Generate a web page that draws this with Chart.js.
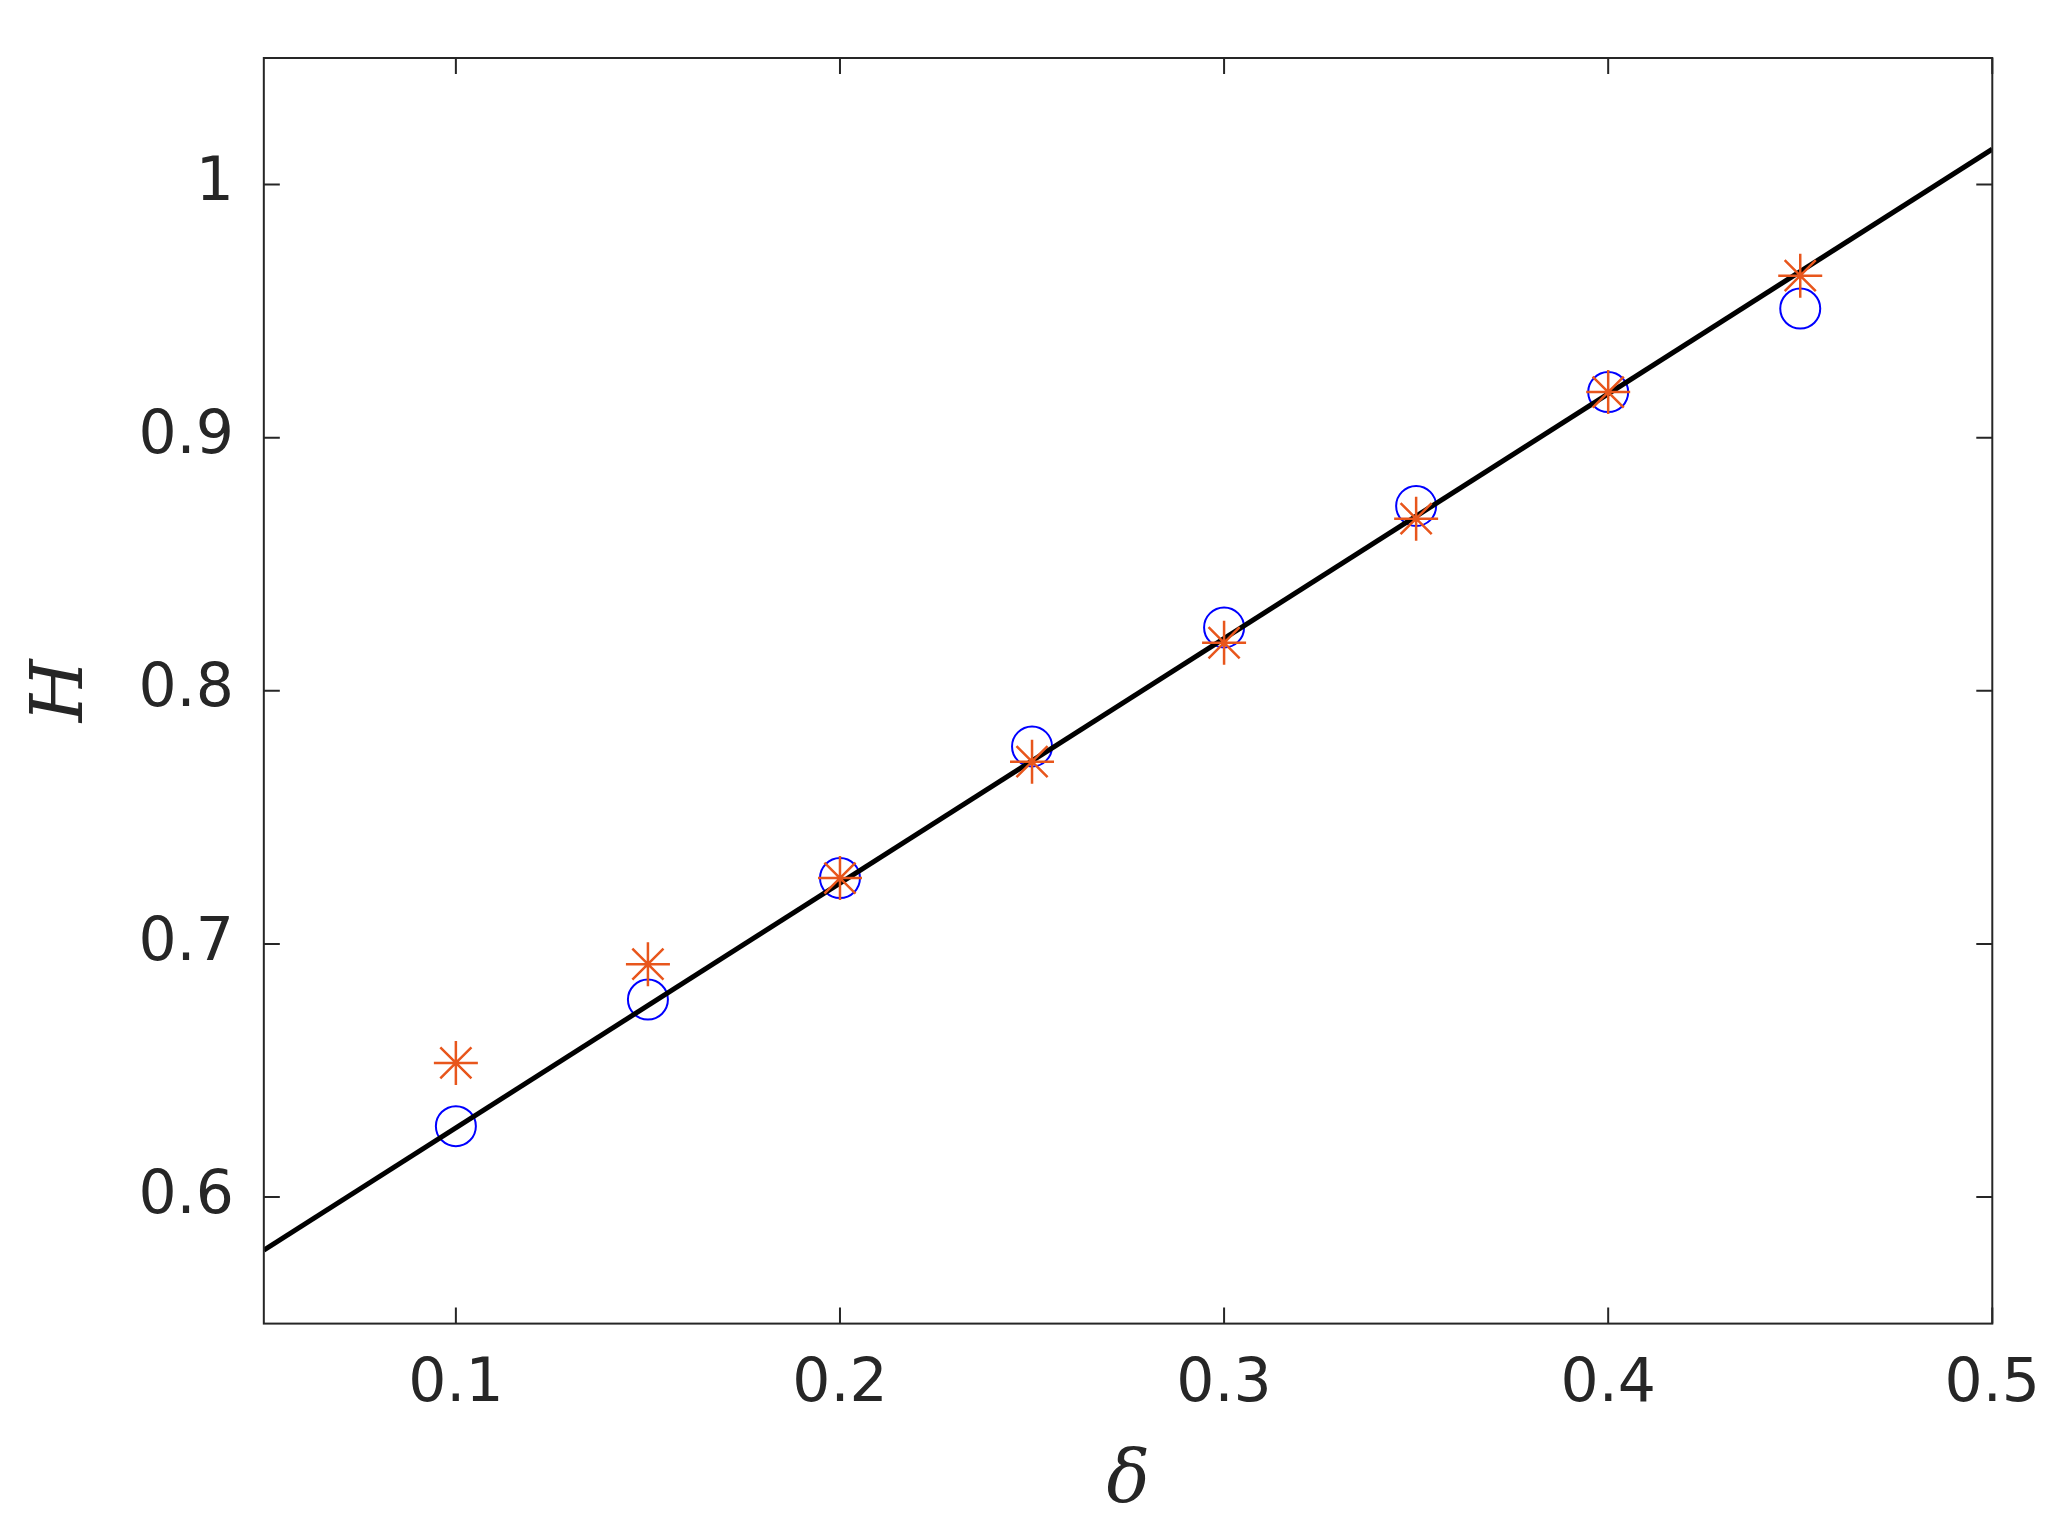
<!DOCTYPE html>
<html>
<head>
<meta charset="utf-8">
<script src="https://cdn.jsdelivr.net/npm/chart.js@4"></script>
<style>
  html, body { margin: 0; padding: 0; background: #fff; }
  #wrap { width: 2058px; height: 1536px; }
</style>
</head>
<body>
<div id="wrap"><canvas id="c"></canvas></div>
<script>
const deltas = [0.1, 0.15, 0.2, 0.25, 0.3, 0.35, 0.4, 0.45];
const circleH = [0.628, 0.678, 0.726, 0.778, 0.825, 0.873, 0.918, 0.951];
const starH = [0.653, 0.692, 0.726, 0.772, 0.819, 0.868, 0.918, 0.964];
const fitX = [0.05, 0.5];
const fitH = [0.579, 1.014];
const xTicks = [0.1, 0.2, 0.3, 0.4, 0.5];
const yTicks = [0.6, 0.7, 0.8, 0.9, 1];

// inward ticks on all four sides plus the box
const boxTicks = {
    id: 'boxTicks',
    afterDraw(chart) {
        const { ctx, chartArea: a, scales: { x, y } } = chart;
        const len = 16;
        ctx.save();
        ctx.strokeStyle = '#262626';
        ctx.lineWidth = 2;
        ctx.strokeRect(a.left, a.top, a.right - a.left, a.bottom - a.top);
        ctx.beginPath();
        xTicks.forEach(v => {
            const px = x.getPixelForValue(v);
            ctx.moveTo(px, a.bottom); ctx.lineTo(px, a.bottom - len);
            ctx.moveTo(px, a.top); ctx.lineTo(px, a.top + len);
        });
        yTicks.forEach(v => {
            const py = y.getPixelForValue(v);
            ctx.moveTo(a.left, py); ctx.lineTo(a.left + len, py);
            ctx.moveTo(a.right, py); ctx.lineTo(a.right - len, py);
        });
        ctx.stroke();
        ctx.restore();
    }
};

new Chart(document.getElementById('c'), {
    type: 'scatter',
    data: {
        datasets: [
            {
                type: 'line',
                data: fitX.map((v, i) => ({ x: v, y: fitH[i] })),
                borderColor: '#000',
                borderWidth: 5,
                pointRadius: 0,
                order: 1
            },
            {
                data: deltas.map((v, i) => ({ x: v, y: circleH[i] })),
                pointStyle: 'circle',
                pointRadius: 20,
                borderColor: '#0000ff',
                borderWidth: 2,
                backgroundColor: 'rgba(0,0,0,0)',
                order: 2
            },
            {
                data: deltas.map((v, i) => ({ x: v, y: starH[i] })),
                pointStyle: 'star',
                pointRadius: 22,
                borderColor: '#e8561c',
                borderWidth: 2.5,
                backgroundColor: 'rgba(0,0,0,0)',
                order: 0
            }
        ]
    },
    options: {
        responsive: true,
        maintainAspectRatio: false,
        animation: false,
        layout: { padding: { top: 24, right: 62, left: 10, bottom: 10 } },
        plugins: { legend: { display: false }, tooltip: { enabled: false } },
        scales: {
            x: {
                type: 'linear', min: 0.05, max: 0.5,
                afterBuildTicks: s => { s.ticks = xTicks.map(v => ({ value: v })); },
                grid: { display: false },
                border: { display: false },
                ticks: { color: '#262626', font: { family: 'DejaVu Sans', size: 60 }, padding: 18, maxRotation: 0,
                         callback: v => String(v) },
                title: { display: true, text: 'δ', color: '#262626', padding: 0,
                         font: { family: 'DejaVu Serif', style: 'italic', size: 72 } }
            },
            y: {
                type: 'linear', min: 0.55, max: 1.05,
                afterBuildTicks: s => { s.ticks = yTicks.map(v => ({ value: v })); },
                grid: { display: false },
                border: { display: false },
                ticks: { color: '#262626', font: { family: 'DejaVu Sans', size: 60 }, padding: 22,
                         callback: v => String(v) },
                title: { display: true, text: 'H', color: '#262626', padding: 10,
                         font: { family: 'DejaVu Serif', style: 'italic', size: 72 } }
            }
        }
    },
    plugins: [boxTicks]
});
</script>
</body>
</html>
